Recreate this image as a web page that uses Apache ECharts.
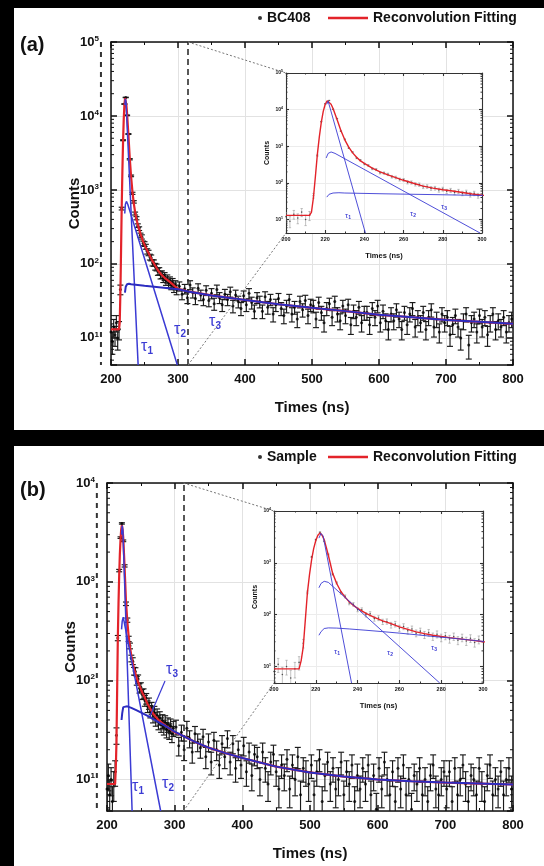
<!DOCTYPE html>
<html><head><meta charset="utf-8">
<script src="https://cdn.jsdelivr.net/npm/echarts@6/dist/echarts.min.js"></script>
<style>html,body{margin:0;padding:0;background:#000;}#c{width:544px;height:866px;}</style>
</head><body><div id="c"></div>
<script>
// ---------------- DATA ----------------
// Panel (a) BC408 counts: head t = 200..298 step 2 ns, tail t = 302..798 step 4 ns
const countsA_head = [12, 9, 14, 11, 16, 10, 13, 45, 560, 4700, 14500, 17800, 10200, 5700, 2600, 1550, 900, 690, 480, 415, 330, 300, 245, 232, 190, 186, 171, 148, 141, 124, 121, 104, 103, 92, 90, 79, 80, 71, 72, 64, 68, 59, 63, 55, 59, 52, 56, 48, 52, 45];
const countsA_tail = [
  50, 39, 46, 35, 52, 41, 34, 47, 38, 33,
  44, 32, 40, 29, 45, 35, 28, 39, 33, 42,
  27, 38, 31, 25, 37, 28, 40, 30, 23, 35,
  31, 23, 36, 26, 33, 21, 28, 34, 25, 20,
  27, 33, 21, 26, 18, 31, 24, 32, 20, 28,
  27, 18, 30, 22, 16, 25, 29, 19, 31, 21,
  17, 27, 20, 28, 15, 23, 19, 26, 16, 22,
  22, 15, 25, 19, 27, 16, 23, 17, 13, 21,
  17, 24, 18, 13, 22, 15, 21, 25, 14, 19,
  16, 22, 13, 19, 24, 14, 18, 12, 21, 16,
  19, 11, 15, 20, 14, 10, 17, 21, 8, 16,
  18, 12, 20, 14, 19, 11, 16, 21, 13, 17,
  14, 19, 12, 16, 18];
// Panel (b) Sample counts
const countsB_head = [8, 11, 7, 10, 6, 9, 12, 28, 270, 1300, 2800, 3900, 2600, 1450, 600, 410, 265, 225, 168, 158, 125, 124, 100, 104, 84, 86, 73, 74, 63, 66, 55, 59, 49, 53, 44, 48, 41, 45, 38, 42, 36, 39, 34, 38, 32, 36, 31, 35, 29, 33];
const countsB_tail = [
  34, 22, 30, 20, 33, 26, 19, 29, 24, 21,
  27, 17, 24, 15, 25, 20, 14, 23, 17, 26,
  15, 23, 13, 20, 14, 22, 12, 19, 11, 18,
  17, 10, 19, 13, 9, 15, 18, 12, 8, 14,
  11, 16, 8, 14, 10, 17, 7, 13, 12, 9,
  14, 7, 12, 16, 6, 11, 15, 9, 13, 8,
  10, 15, 7, 12, 9, 14, 6, 11, 8, 13,
  9, 14, 7, 11, 5, 13, 8, 15, 10, 7,
  12, 6, 13, 8, 14, 7, 10, 5, 11, 9,
  13, 7, 10, 6, 11, 14, 8, 7, 10, 12,
  8, 12, 6, 13, 7, 10, 14, 9, 6, 11,
  10, 7, 13, 9, 6, 11, 14, 7, 10, 8,
  12, 7, 10, 13, 8];
const headStart = 200, headStep = 2, tailStart = 302, tailStep = 4;

// Reconvolution fits and components [time ns, counts]
const fitA = [[200,13],[212,13],[213,16],[214,40],[215,150],[216,600],[217,1800],[218,4500],[219,9000],[220,14000],[221,17500],[222,17000],[223,14000],[224,10700],[226,5500],[228,2700],[230,1500],[232,950],[234,660],[236,500],[238,400],[240,340],[244,255],[248,200],[252,165],[256,140],[260,118],[265,98],[270,82],[275,72],[280,65],[285,60],[290,55],[295,50],[300,46],[315,42.5],[350,37.5],[400,32.5],[450,28.5],[500,25.5],[550,23],[600,20.5],[650,19],[700,17.5],[750,16.5],[800,15.5]];
const tau1A = [[220.8,14000],[221.5,17000],[222.5,15000],[240.5,4.3]];
const tau2A = [[220.5,480],[221.5,640],[223,700],[225,640],[299,4.3]];
const tau3A = [[220.8,41],[222,49],[224,53],[227,54],[230,53],[250,50.5],[275,48],[300,45.5],[315,42.5],[350,37.5],[400,32.5],[450,28.5],[500,25.5],[550,23],[600,20.5],[650,19],[700,17.5],[750,16.5],[800,15.5]];

const fitB = [[200,9],[212,9],[213,13],[214,24],[215,80],[216,270],[217,600],[218,1150],[219,1900],[220,2700],[221,3400],[222,3750],[223,3400],[224,2800],[225,2000],[226,1400],[227,950],[228,640],[230,400],[232,280],[234,218],[236,178],[238,151],[240,132],[244,106],[248,89],[252,76],[256,67],[260,58],[264,52],[268,46.5],[272,43],[276,40],[280,38],[284,36],[288,34.5],[292,33],[296,31.5],[300,30],[313,27.5],[330,24],[350,21],[375,18.5],[400,16.5],[450,13.5],[500,11.8],[550,10.7],[600,10],[650,9.6],[700,9.3],[750,9.1],[800,8.9]];
const tau1B = [[221.5,3000],[222.5,3700],[223.5,3300],[237.1,4.8]];
const tau2B = [[221.5,330],[222.5,400],[224,440],[226,420],[279.3,4.8]];
const tau3B = [[221.5,40],[222.5,47],[224,54],[226,55.5],[230,55],[236,53],[244,50],[252,47],[260,44],[268,41],[276,38],[284,35.5],[292,33],[300,30.5],[313,27.5],[330,24],[350,21],[375,18.5],[400,16.5],[450,13.5],[500,11.8],[550,10.7],[600,10],[650,9.6],[700,9.3],[750,9.1],[800,8.9]];

// Axis settings
const xMainTicks = [200, 800, 100];
const xInsetTicks = [200, 300, 20];
const yRangeA = [4.3, 100000];
const yRangeB = [4.8, 10000];
const zoomLineA = 315, zoomLineB = 313, leftDashT = 185;

// ---------------- BUILD ----------------
const FONT = 'Liberation Sans, Arial, Helvetica, sans-serif';
const RED = '#e3232a', BLUE = '#3b3bd4', BLUE_T = '#2c2cc0';

function toPts(t0, step, vals){ return vals.map((v,i)=>[t0 + i*step, v]); }
const ptsA = toPts(headStart, headStep, countsA_head).concat(toPts(tailStart, tailStep, countsA_tail));
const ptsB = toPts(headStart, headStep, countsB_head).concat(toPts(tailStart, tailStep, countsB_tail));
// Poisson error bars
const errA = ptsA.map(p=>[p[0], p[1], Math.sqrt(p[1])]);
const errB = ptsB.map(p=>[p[0], p[1], Math.sqrt(p[1])]);

function minorVals(r){
  const out = [];
  for (let n = -1; n <= 6; n++) for (let k = 2; k <= 9; k++) {
    const v = k * Math.pow(10, n); if (v > r[0] && v < r[1]) out.push(v);
  }
  return out;
}

const grids = [
  {left:111, top:42, width:402, height:323, z:0},
  {left:286, top:73, width:196, height:160, z:10, show:true, backgroundColor:'#fff', borderWidth:0},
  {left:107, top:483, width:406, height:328, z:0},
  {left:274, top:511, width:209, height:172, z:10, show:true, backgroundColor:'#fff', borderWidth:0}
].map(g=>Object.assign({outerBoundsMode:'none', containLabel:false}, g));

function powLabel(v){
  const e = Math.log10(v), n = Math.round(e);
  if (Math.abs(e - n) > 1e-6) return '';
  return '{b|10}{s|' + n + '}';
}

function xAxes(gi, main){
  const col = main ? '#111' : '#333', lw = main ? 1.5 : 1.1;
  const r = main ? xMainTicks : xInsetTicks;
  const common = {type:'value', gridIndex:gi, min:r[0], max:r[1], interval:r[2], z: main?0:11,
    axisLine:{show:true, onZero:false, lineStyle:{color:col, width:lw}},
    axisTick:{show:true, inside:true, length: main?6:3, lineStyle:{color:col, width:lw}},
    minorTick:{show:true, splitNumber:2, length: main?3:1.5, lineStyle:{color:col, width:1}}};
  const bottom = Object.assign({}, common, {position:'bottom',
    axisLabel:{show:true, margin: main?8:3, color:'#111', fontFamily:FONT, fontWeight:'bold', fontSize: main?13:5.5},
    splitLine:{show:true, lineStyle:{color: main?'#e2e2e2':'#ececec', width:1}},
    name:'Times (ns)', nameLocation:'middle', nameGap: main?35:19, nameMoveOverlap:false,
    nameTextStyle:{color:'#111', fontFamily:FONT, fontWeight:'bold', fontSize: main?15:7.5}});
  const top = Object.assign({}, common, {position:'top', axisLabel:{show:false}, splitLine:{show:false}});
  return [bottom, top];
}
function yAxes(gi, main, range){
  const col = main ? '#111' : '#333', lw = main ? 1.5 : 1.1;
  const common = {type:'log', logBase:10, gridIndex:gi, min:range[0], max:range[1], z: main?0:11,
    axisLine:{show:true, onZero:false, lineStyle:{color:col, width:lw}},
    axisTick:{show:true, inside:true, length: main?6:3, lineStyle:{color:col, width:lw}}};
  const left = Object.assign({}, common, {position:'left',
    axisLabel:{show:true, margin: main?12:3, formatter: powLabel,
      rich:{ b:{fontFamily:FONT, fontWeight:'bold', fontSize: main?13:5, color:'#111'},
             s:{fontFamily:FONT, fontWeight:'bold', fontSize: main?8:3.5, color:'#111', padding: main?[0,0,7,0]:[0,0,3,0]} }},
    splitLine:{show:true, lineStyle:{color: main?'#e2e2e2':'#ececec', width:1}},
    name:'Counts', nameLocation:'middle', nameGap: main?29:15, nameRotate:90, nameMoveOverlap:false,
    nameTextStyle:{color:'#111', fontFamily:FONT, fontWeight:'bold', fontSize: main?15:7}});
  const right = Object.assign({}, common, {position:'right', axisLabel:{show:false}, splitLine:{show:false}});
  return [left, right];
}

const xAxis = [].concat(xAxes(0,true), xAxes(1,false), xAxes(2,true), xAxes(3,false));
const yAxis = [].concat(yAxes(0,true,yRangeA), yAxes(1,false,yRangeA), yAxes(2,true,yRangeB), yAxes(3,false,yRangeB));

function minorTickSeries(gi, range, main){
  const len = main ? 3 : 1.5, col = main ? '#111' : '#333';
  return {type:'custom', xAxisIndex:2*gi, yAxisIndex:2*gi, silent:true, clip:false, z: main?3:13,
    data: minorVals(range).map(v=>[ (main?xMainTicks:xInsetTicks)[0], v ]),
    renderItem(params, api){
      const cs = params.coordSys;
      const y = api.coord([api.value(0), api.value(1)])[1];
      return {type:'group', children:[
        {type:'line', shape:{x1:cs.x, y1:y, x2:cs.x+len, y2:y}, style:{stroke:col, lineWidth:1}},
        {type:'line', shape:{x1:cs.x+cs.width-len, y1:y, x2:cs.x+cs.width, y2:y}, style:{stroke:col, lineWidth:1}}]};
    }};
}
function errSeries(gi, data, main){
  const cap = main ? 3 : 1.2, col = main ? '#1a1a1a' : '#9a9a9a', lw = main ? 1.15 : 0.6;
  return {type:'custom', xAxisIndex:2*gi, yAxisIndex:2*gi, silent:true, clip:true, z: main?2:12,
    data: data,
    renderItem(params, api){
      const t = api.value(0), v = api.value(1), e = api.value(2);
      const a = api.coord([t, v + e]), b = api.coord([t, Math.max(v - e, 0.05)]);
      const x = a[0];
      return {type:'group', children:[
        {type:'line', shape:{x1:x, y1:a[1], x2:x, y2:b[1]}, style:{stroke:col, lineWidth:lw}},
        {type:'line', shape:{x1:x-cap, y1:a[1], x2:x+cap, y2:a[1]}, style:{stroke:col, lineWidth:lw}},
        {type:'line', shape:{x1:x-cap, y1:b[1], x2:x+cap, y2:b[1]}, style:{stroke:col, lineWidth:lw}}]};
    }};
}
function lineSeries(gi, name, data, color, width, z){
  return {type:'line', name:name, xAxisIndex:2*gi, yAxisIndex:2*gi, data:data, symbol:'none', showSymbol:false,
    silent:true, clip:true, z:z, lineStyle:{color:color, width:width}, itemStyle:{color:color}};
}
function panelSeries(gMain, gInset, dataName, pts, err, fit, t1, t2, t3, yr, zoomT){
  const out = [];
  // main
  out.push(minorTickSeries(gMain, yr, true));
  out.push(errSeries(gMain, err, true));
  out.push({type:'scatter', name:dataName, xAxisIndex:2*gMain, yAxisIndex:2*gMain, data:pts, symbol:'circle', symbolSize:3,
    itemStyle:{color:'#000'}, silent:true, z:3,
    markLine:{silent:true, symbol:'none', label:{show:false}, lineStyle:{type:[6,4], color:'#222', width:1.5},
      data:[{xAxis:zoomT}]}});
  out.push(lineSeries(gMain, 'Reconvolution Fitting', fit, RED, 2.2, 4));
  out.push(lineSeries(gMain, 'tau1', t1, BLUE, 1.5, 5));
  out.push(lineSeries(gMain, 'tau2', t2, BLUE, 1.5, 5));
  out.push(lineSeries(gMain, 'tau3', t3, BLUE_T, 2, 6));
  // inset
  out.push(minorTickSeries(gInset, yr, false));
  out.push(errSeries(gInset, err, false));
  out.push({type:'scatter', name:dataName, xAxisIndex:2*gInset, yAxisIndex:2*gInset, data:pts, symbol:'circle', symbolSize:1.6,
    itemStyle:{color:'#333'}, silent:true, z:13});
  out.push(lineSeries(gInset, 'Reconvolution Fitting', fit, RED, 1.4, 14));
  out.push(lineSeries(gInset, 'tau1', t1, BLUE, 0.9, 15));
  out.push(lineSeries(gInset, 'tau2', t2, BLUE, 0.9, 15));
  out.push(lineSeries(gInset, 'tau3', t3, BLUE, 0.9, 15));
  return out;
}

const series = [].concat(
  panelSeries(0, 1, 'BC408', ptsA, errA, fitA, tau1A, tau2A, tau3A, yRangeA, zoomLineA),
  panelSeries(2, 3, 'Sample', ptsB, errB, fitB, tau1B, tau2B, tau3B, yRangeB, zoomLineB));

const legTxt = {fontFamily:FONT, fontWeight:'bold', fontSize:14, color:'#111'};
const fitLegendItem = {name:'Reconvolution Fitting', icon:'rect', itemStyle:{color:RED}};
const option = {
  animation:false,
  backgroundColor:'#000',
  title:[
    {text:'(a)', left:20, top:35, padding:0, textStyle:{fontFamily:FONT, fontWeight:'bold', fontSize:20, color:'#111'}},
    {text:'(b)', left:20, top:480, padding:0, textStyle:{fontFamily:FONT, fontWeight:'bold', fontSize:20, color:'#111'}}
  ],
  legend:[
    {data:['BC408'], left:258, top:11, padding:0, itemWidth:4, itemHeight:4, selectedMode:false, textStyle:legTxt},
    {data:[fitLegendItem], left:328, top:11, padding:0, itemWidth:40, itemHeight:2.5, selectedMode:false, textStyle:legTxt},
    {data:['Sample'], left:258, top:450, padding:0, itemWidth:4, itemHeight:4, selectedMode:false, textStyle:legTxt},
    {data:[fitLegendItem], left:328, top:450, padding:0, itemWidth:40, itemHeight:2.5, selectedMode:false, textStyle:legTxt}
  ],
  grid: grids,
  xAxis: xAxis,
  yAxis: yAxis,
  series: series
};

const chart = echarts.init(document.getElementById('c'), null, {renderer:'canvas'});
chart.setOption(option);

// ------------- decorations (background panels, zoom guides, labels) -------------
function px(gi, pt){ return chart.convertToPixel({gridIndex:gi}, pt); }
function tauText(x, y, n, main){
  return {type:'text', x:x, y:y, z:60, silent:true, style:{text:'{t|τ}{n|' + n + '}', align:'center', verticalAlign:'middle',
    rich:{t:{fontFamily:FONT, fontSize: main?16:8, fill:BLUE}, n:{fontFamily:FONT, fontWeight:'bold', fontSize: main?10:5, fill:BLUE, padding: main?[9,0,0,0]:[4,0,0,0]}}}};
}
const g = [
  {type:'rect', z:-100, silent:true, shape:{x:14, y:8, width:530, height:422}, style:{fill:'#fff'}},
  {type:'rect', z:-100, silent:true, shape:{x:14, y:446, width:530, height:420}, style:{fill:'#fff'}}
];
[[0,1,zoomLineA,yRangeA],[2,3,zoomLineB,yRangeB]].forEach(([gm, gi, zt, yr])=>{
  const top = px(gm, [zt, yr[1]]), bot = px(gm, [zt, yr[0]]);
  const iTop = px(gi, [xInsetTicks[0], yr[1]]), iBot = px(gi, [xInsetTicks[0], yr[0]]);
  const lTop = px(gm, [leftDashT, yr[1]]), lBot = px(gm, [leftDashT, yr[0]]);
  g.push({type:'line', z:20, silent:true, shape:{x1:top[0], y1:top[1], x2:iTop[0], y2:iTop[1]}, style:{stroke:'#777', lineWidth:1, lineDash:[2,2]}});
  g.push({type:'line', z:20, silent:true, shape:{x1:bot[0], y1:bot[1], x2:iBot[0], y2:iBot[1]}, style:{stroke:'#777', lineWidth:1, lineDash:[2,2]}});
  g.push({type:'line', z:20, silent:true, shape:{x1:lTop[0], y1:lTop[1], x2:lBot[0], y2:lBot[1]}, style:{stroke:'#333', lineWidth:2, lineDash:[5,5]}});
});
g.push(tauText(147,347,1,true), tauText(180,330,2,true), tauText(215,322,3,true));
g.push(tauText(138,787,1,true), tauText(168,784,2,true), tauText(172,670,3,true));
g.push(tauText(348,216,1,false), tauText(413,214,2,false), tauText(444,207,3,false));
g.push(tauText(337,652,1,false), tauText(390,653,2,false), tauText(434,648,3,false));
g.push({type:'line', z:60, silent:true, shape:{x1:165, y1:681, x2:150, y2:716}, style:{stroke:BLUE, lineWidth:1.2}});
chart.setOption({graphic: g});
</script></body></html>
